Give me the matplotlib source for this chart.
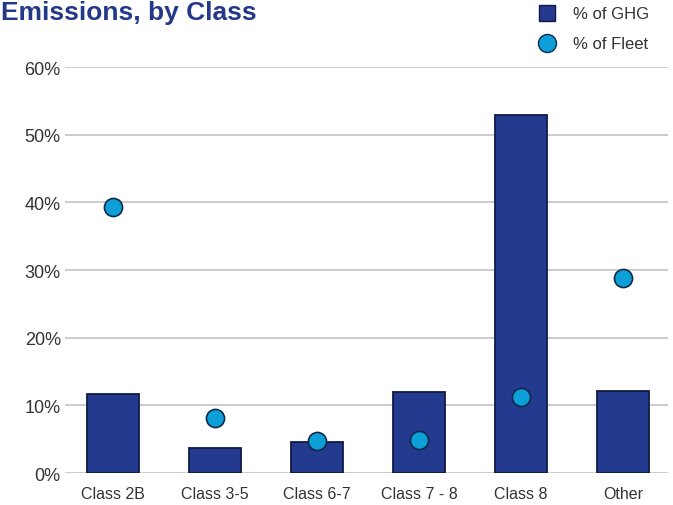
import numpy as np
import matplotlib.pyplot as plt
from matplotlib.lines import Line2D

plt.rcParams['font.family'] = ['Liberation Sans', 'DejaVu Sans']

# data
classes = ['Class 2B', 'Class 3-5', 'Class 6-7', 'Class 7 - 8', 'Class 8', 'Other']
pct_ghg = [11.7, 3.7, 4.6, 12.0, 52.9, 12.1]
pct_fleet = [39.3, 8.1, 4.7, 4.9, 11.2, 28.8]
yticks = [0, 10, 20, 30, 40, 50, 60]

bar_color = '#243a8e'
bar_edge = '#111a45'
dot_color = '#0d9fd8'
dot_edge = '#0d2a4a'

fig = plt.figure(figsize=(6.73, 5.06), dpi=100)
ax = fig.add_axes([0.0966, 0.0632, 0.896, 0.8024])

x = np.arange(len(classes))
ax.bar(x, pct_ghg, width=0.51, color=bar_color, edgecolor=bar_edge, linewidth=1.3, zorder=2)
ax.scatter(x, pct_fleet, s=170, color=dot_color, edgecolor=dot_edge, linewidth=1.2, zorder=3)

ax.set_xlim(-0.47, 5.44)
ax.set_ylim(0, 60)
ax.set_yticks(yticks)
ax.set_yticklabels([f'{v}%' for v in yticks], fontsize=13, color='#333333')
ax.set_xticks(x)
ax.set_xticklabels(classes, fontsize=11.5, color='#333333')
ax.tick_params(axis='x', length=0, pad=9)
ax.tick_params(axis='y', length=0, pad=3)
ax.yaxis.grid(True, color='#c4c4c4', linewidth=1.2)
ax.set_axisbelow(True)
for s in ax.spines.values():
    s.set_visible(False)

# legend above the plot, top right
handles = [
    Line2D([], [], marker='s', linestyle='none', markersize=11,
           markerfacecolor=bar_color, markeredgecolor=bar_edge, label='% of GHG'),
    Line2D([], [], marker='o', linestyle='none', markersize=13,
           markerfacecolor=dot_color, markeredgecolor=dot_edge, label='% of Fleet'),
]
fig.legend(handles=handles, loc='upper left', bbox_to_anchor=(0.765, 1.015),
           frameon=False, fontsize=12, labelspacing=0.9, handletextpad=0.6,
           labelcolor='#333333')

# title at the top left
fig.text(0.002, 1 - 20 / 506, 'Emissions, by Class', fontsize=19, fontweight='bold',
         color='#24388a', va='baseline', ha='left')

fig.savefig('out.png', dpi=100)
